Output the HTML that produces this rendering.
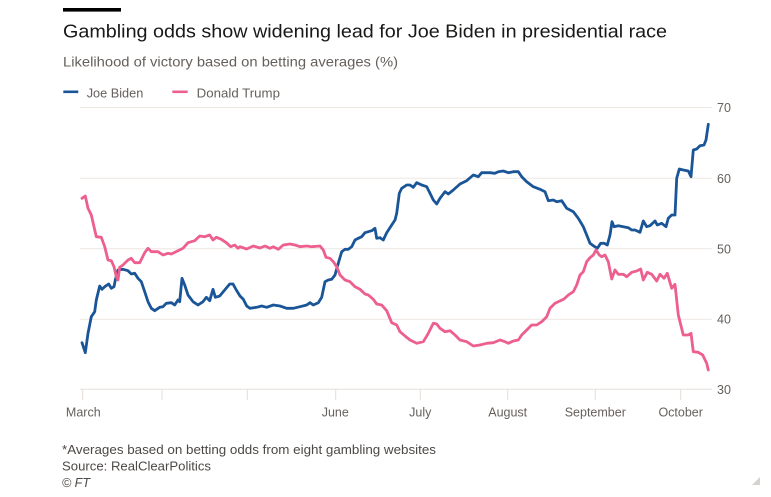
<!DOCTYPE html>
<html>
<head>
<meta charset="utf-8">
<style>
html,body{margin:0;padding:0;background:#fff;}
svg{display:block;}
text{font-family:"Liberation Sans",Arial,sans-serif;}
</style>
</head>
<body>
<svg width="771" height="497" viewBox="0 0 771 497" xmlns="http://www.w3.org/2000/svg">
<rect x="0" y="0" width="771" height="497" fill="#ffffff"/>
<!-- header bar -->
<rect x="63" y="8" width="58" height="3.6" fill="#000"/>
<text x="63" y="37.7" font-size="18" fill="#1a1817" textLength="604" lengthAdjust="spacingAndGlyphs">Gambling odds show widening lead for Joe Biden in presidential race</text>
<text x="63" y="66.7" font-size="14" fill="#66605c" textLength="335" lengthAdjust="spacingAndGlyphs">Likelihood of victory based on betting averages (%)</text>
<!-- legend -->
<rect x="63.3" y="90.5" width="15" height="2.6" fill="#1a5597"/>
<text x="86.7" y="97.5" font-size="13" fill="#66605c" textLength="56.6" lengthAdjust="spacingAndGlyphs">Joe Biden</text>
<rect x="172.3" y="90.5" width="15.4" height="2.6" fill="#ec5f8e"/>
<text x="196.7" y="97.5" font-size="13" fill="#66605c" textLength="83.3" lengthAdjust="spacingAndGlyphs">Donald Trump</text>
<!-- gridlines -->
<g stroke="#ece6e1" stroke-width="1">
<line x1="80" y1="107.5" x2="711.7" y2="107.5"/>
<line x1="80" y1="178.3" x2="711.7" y2="178.3"/>
<line x1="80" y1="248.8" x2="711.7" y2="248.8"/>
<line x1="80" y1="319.2" x2="711.7" y2="319.2"/>
</g>
<line x1="80" y1="389.3" x2="711.7" y2="389.3" stroke="#e4ded9" stroke-width="1"/>
<g stroke="#e4ded9" stroke-width="1">
<line x1="82.7" y1="389.3" x2="82.7" y2="400"/>
<line x1="162" y1="389.3" x2="162" y2="400"/>
<line x1="247.3" y1="389.3" x2="247.3" y2="400"/>
<line x1="335.7" y1="389.3" x2="335.7" y2="400"/>
<line x1="420.3" y1="389.3" x2="420.3" y2="400"/>
<line x1="507.7" y1="389.3" x2="507.7" y2="400"/>
<line x1="595.3" y1="389.3" x2="595.3" y2="400"/>
<line x1="680.7" y1="389.3" x2="680.7" y2="400"/>
</g>
<!-- y labels -->
<g font-size="12.5" fill="#66605c">
<text x="717" y="112">70</text>
<text x="717" y="182.8">60</text>
<text x="717" y="253.3">50</text>
<text x="717" y="323.7">40</text>
<text x="717" y="393.8">30</text>
</g>
<!-- x labels -->
<g font-size="12.5" fill="#66605c" text-anchor="middle">
<text x="83.3" y="416.5">March</text>
<text x="335.3" y="416.5">June</text>
<text x="420.3" y="416.5">July</text>
<text x="507.7" y="416.5">August</text>
<text x="595.3" y="416.5">September</text>
<text x="680.7" y="416.5">October</text>
</g>
<!-- Biden -->
<polyline fill="none" stroke="#1a5597" stroke-width="2.8" stroke-linejoin="round" stroke-linecap="round" points="
82,342.7 85.3,352.7 88,333.3 91.3,316.7 94.7,311.7 96.3,300 99.7,286 102,289.3 104.7,286.7 108.7,284 111.3,288.3 114,286.7 115.3,280 118,270 123,269.3 128,270.7 131.3,274 134.7,273.3 138,278.3 141.3,281.7 144.7,291.7 148,301.7 151.3,308.3 154.7,310.7 159.7,307.3 163,306.7 166.3,303.3 171.3,302.7 174.7,305 178,300 179.7,301.7 182,278.3 184.7,285 188,295 193,301.7 198,305 203,301.7 206.3,297.3 209.7,300.7 213,289.3 215.3,297.3 219.7,296 224.7,290 229.7,284 233,284 236.3,290 240,296 243.3,299.3 246.7,306 250,308.3 256.7,307.3 261.7,306 266.7,307.3 273.3,305 280,306 286.7,308.3 293.3,308.3 300,306.7 306.7,305 310,302.7 313.3,305 318.3,302.7 321.7,297.3 325,281.7 328.3,280 331.7,279.3 335,275 338.3,263.3 341.7,251.7 345,249.3 348.3,249.3 351.7,246.7 355,240 358.3,238.3 361.7,236.7 365,232.7 371.7,230.7 375,228.3 376.7,238.3 380,237.7 383.3,240 386.7,232.7 391.7,225 395,220 396.7,213.3 399.3,193.3 401.7,188.3 406.7,185 410,185 413.3,187.3 416.7,182.7 421.7,185 426.7,186.7 430,193.3 433.3,200 436.7,204 440,198.3 445,191.7 448.3,194 453.3,190 460,184 466.7,180.7 473.3,175 478.3,176.7 481.7,172.7 490,172.7 495,173.3 498.3,171.7 503.3,171 508.3,172.7 513.3,171.7 518.3,171.7 521.7,176.7 526.7,181.7 533.3,186.7 540,189.3 545,191.7 548.3,200.7 553.3,200 556.7,201.7 561.7,200.7 566.7,208.3 573.3,211.7 578.3,218.3 583.3,226.7 586.7,235 590,243.3 593.3,245.7 597.3,248.3 600.7,243.3 604,243.3 607.3,245 610,235 612,221.7 614,226.7 618.3,225.7 623.3,226.7 628.3,227.7 631.7,230 635,230 640,232.3 643.3,221 646.7,226.7 650,225.7 655,221 657.3,225 661.7,223.3 666,226.7 668.3,218.3 671.7,215 675,215 676.7,178.3 679.3,169 683.3,170 688.3,171 691,176.7 693.3,150 696.7,149 700,145.7 704,145 706,140 708.3,124.3"/>
<!-- Trump -->
<polyline fill="none" stroke="#ec5f8e" stroke-width="2.8" stroke-linejoin="round" stroke-linecap="round" points="
82,198.3 85.3,196 88,208.3 91.3,215 96.3,236.7 101.3,237.3 104.7,246.7 108,260 111.3,260.7 114,266.7 116.3,276.7 118,280 119.7,267.3 123,265 128,260 131.3,258.3 134.7,262.7 139.7,262.7 144.7,252.7 148,248.3 151.3,251.7 158,251.7 163,255 168,253.3 171.3,254 178,250.7 183,248.3 188,242.7 194.7,240.7 199.7,236 204.7,236.7 209.7,235 213,240 216.3,237.3 221.3,239.3 226.3,242.7 230.7,246.7 234.7,245 238,248.3 240,246.7 246.7,249 253.3,246 260,248 265,246 270,248.3 273.3,246.7 278.3,249.3 283.3,245 290,244 295,245 300,246.7 306.7,246 311.7,246.7 320,246 323.3,250 326,257.3 330,258.3 333.3,261.7 336.7,266.7 340,275 345,280 350,281.7 355,286.7 360,289.3 365,294 368.3,295 373.3,299.3 376.7,304 381.7,305 386.7,310.7 391.7,322.7 396.7,325 400,331.7 405,336 410,340 416.7,343.3 423.3,341.7 428.3,333.3 433.3,323.3 436.7,324 440,328.3 445,331.7 450,330.7 455,335 460,340 466.7,341.7 473.3,346 480,345 486.7,343.3 493.3,342.7 500,340 505,341.7 508.3,343.3 513.3,341 518.3,340 521.7,335 526.7,330 531.7,325 536.7,325 541.7,321.7 546.7,316.7 550,308.3 555,303.3 558.3,301.7 564,299 568.3,295 573.3,291.7 576.7,285 580,275 583.3,271.7 586.7,261.7 590,257.7 593.3,255 596,250 599.3,255 601.7,256.7 605,255 608.3,261.7 611.7,279 615,270 618.3,274.3 623.3,274.3 626.7,276.7 631.7,272.3 636.7,271 640.7,269 643.3,280 647.3,272.3 651.7,274.3 656.7,281 660,274.3 664,278.3 667.3,273.3 671.7,288.3 675,284.3 678.3,315 683.3,335 688.3,335 691,333.3 693.3,351.7 698.3,352.3 702.7,355 706.7,363.3 708.3,370"/>
<!-- footer -->
<g font-size="12.5" fill="#4d4845">
<text x="62" y="454" textLength="374" lengthAdjust="spacingAndGlyphs">*Averages based on betting odds from eight gambling websites</text>
<text x="62" y="470.5" textLength="149" lengthAdjust="spacingAndGlyphs">Source: RealClearPolitics</text>
<text x="62" y="487" font-style="italic">© FT</text>
</g>
<polygon points="760,477 760,485 752,485" fill="#d6d2cf"/>
</svg>
</body>
</html>
